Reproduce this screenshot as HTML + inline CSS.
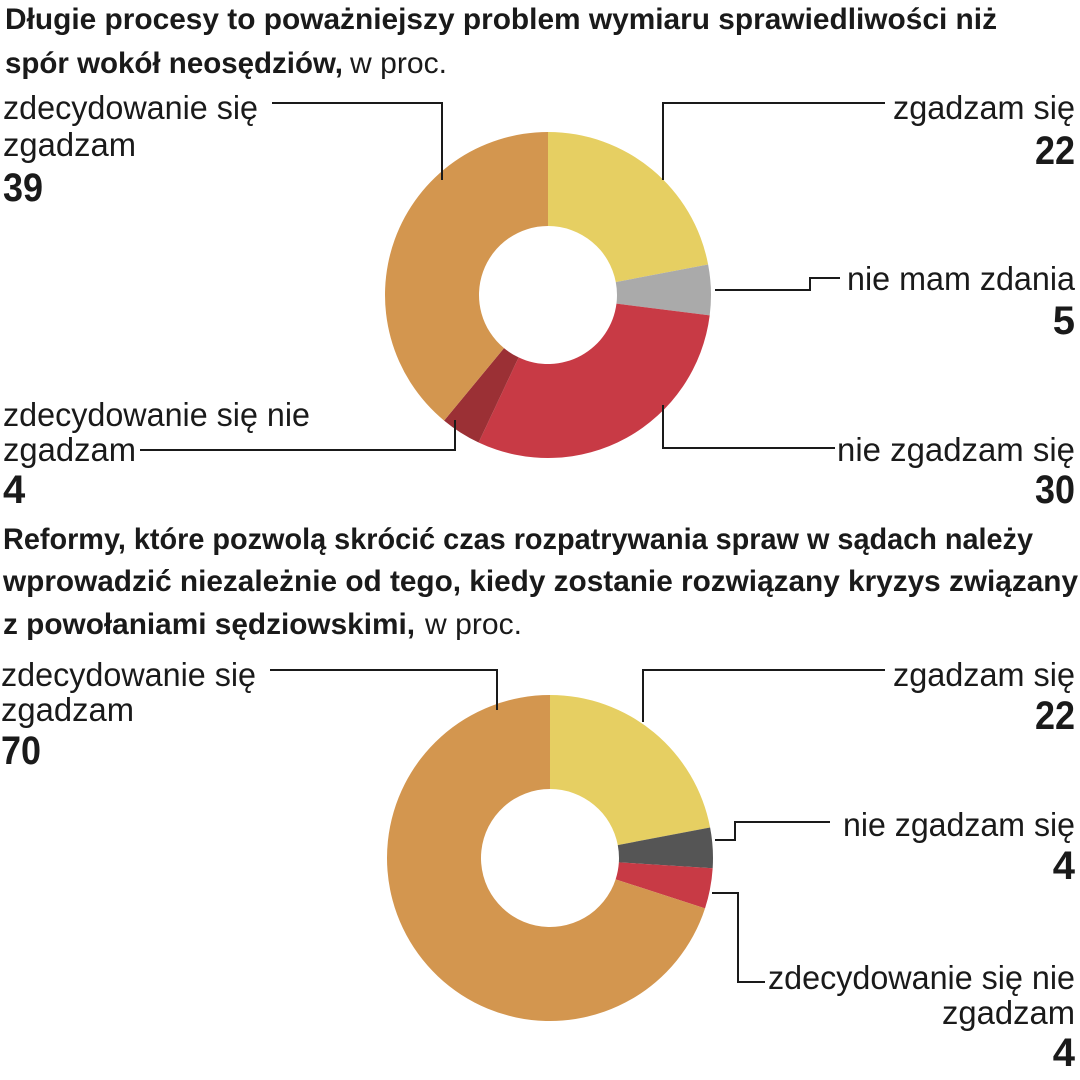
<!DOCTYPE html>
<html><head><meta charset="utf-8"><style>
html,body{margin:0;padding:0;background:#fff}
svg{display:block}
text{font-family:"Liberation Sans Narrow","Liberation Sans","DejaVu Sans Condensed",sans-serif;fill:#1a1a1a}
.t{font-weight:bold;font-size:30px}
.tr{font-weight:normal;font-size:30px}
.l{font-size:33px}
.n{font-size:40px;font-weight:bold}
.ld{stroke:#1a1a1a;stroke-width:2;fill:none}
</style></head><body>
<svg id="s" width="1080" height="1080" viewBox="0 0 1080 1080">
<g>
<text class="t" x="5" y="29" textLength="992" lengthAdjust="spacingAndGlyphs">Długie procesy to poważniejszy problem wymiaru sprawiedliwości niż</text>
<text class="t" x="5" y="73" textLength="338" lengthAdjust="spacingAndGlyphs">spór wokół neosędziów,</text>
<text class="tr" x="350" y="73" textLength="97" lengthAdjust="spacingAndGlyphs">w proc.</text>
</g>
<g id="d1"></g>
<g>
<text class="l" x="3" y="119" textLength="255" lengthAdjust="spacingAndGlyphs">zdecydowanie się</text>
<text class="l" x="3" y="156" textLength="133" lengthAdjust="spacingAndGlyphs">zgadzam</text>
<text class="n" x="3" y="201" textLength="40" lengthAdjust="spacingAndGlyphs">39</text>
<polyline class="ld" points="272,103 442,103 442,180"/>
<text class="l" x="1075" y="119" text-anchor="end" textLength="182" lengthAdjust="spacingAndGlyphs">zgadzam się</text>
<text class="n" x="1075" y="164" text-anchor="end" textLength="40" lengthAdjust="spacingAndGlyphs">22</text>
<polyline class="ld" points="663,180 663,103 885,103"/>
<text class="l" x="1075" y="290" text-anchor="end" textLength="228" lengthAdjust="spacingAndGlyphs">nie mam zdania</text>
<text class="n" x="1075" y="334" text-anchor="end">5</text>
<polyline class="ld" points="715,290 810,290 810,278 840,278"/>
<text class="l" x="3" y="426" textLength="307" lengthAdjust="spacingAndGlyphs">zdecydowanie się nie</text>
<text class="l" x="3" y="461" textLength="133" lengthAdjust="spacingAndGlyphs">zgadzam</text>
<text class="n" x="3" y="503">4</text>
<polyline class="ld" points="140,450 455,450 455,420"/>
<text class="l" x="1075" y="461" text-anchor="end" textLength="238" lengthAdjust="spacingAndGlyphs">nie zgadzam się</text>
<text class="n" x="1075" y="503" text-anchor="end" textLength="40" lengthAdjust="spacingAndGlyphs">30</text>
<polyline class="ld" points="663,405 663,448 835,448"/>
</g>
<g>
<text class="t" x="3" y="549" textLength="1030" lengthAdjust="spacingAndGlyphs">Reformy, które pozwolą skrócić czas rozpatrywania spraw w sądach należy</text>
<text class="t" x="3" y="591" textLength="1075" lengthAdjust="spacingAndGlyphs">wprowadzić niezależnie od tego, kiedy zostanie rozwiązany kryzys związany</text>
<text class="t" x="3" y="634" textLength="412" lengthAdjust="spacingAndGlyphs">z powołaniami sędziowskimi,</text>
<text class="tr" x="425" y="634" textLength="97" lengthAdjust="spacingAndGlyphs">w proc.</text>
</g>
<g id="d2"></g>
<g>
<text class="l" x="1" y="686" textLength="255" lengthAdjust="spacingAndGlyphs">zdecydowanie się</text>
<text class="l" x="1" y="721" textLength="133" lengthAdjust="spacingAndGlyphs">zgadzam</text>
<text class="n" x="1" y="764" textLength="40" lengthAdjust="spacingAndGlyphs">70</text>
<polyline class="ld" points="270,670 497,670 497,710"/>
<text class="l" x="1075" y="686" text-anchor="end" textLength="182" lengthAdjust="spacingAndGlyphs">zgadzam się</text>
<text class="n" x="1075" y="729" text-anchor="end" textLength="40" lengthAdjust="spacingAndGlyphs">22</text>
<polyline class="ld" points="643,722 643,670 885,670"/>
<text class="l" x="1075" y="836" text-anchor="end" textLength="232" lengthAdjust="spacingAndGlyphs">nie zgadzam się</text>
<text class="n" x="1075" y="879" text-anchor="end">4</text>
<polyline class="ld" points="715,840 735,840 735,822 830,822"/>
<text class="l" x="1075" y="989" text-anchor="end" textLength="307" lengthAdjust="spacingAndGlyphs">zdecydowanie się nie</text>
<text class="l" x="1075" y="1024" text-anchor="end" textLength="133" lengthAdjust="spacingAndGlyphs">zgadzam</text>
<text class="n" x="1075" y="1066" text-anchor="end">4</text>
<polyline class="ld" points="712,893 738,893 738,982 765,982"/>
</g>
</svg>
<script>
const cats1 = ["zgadzam się","nie mam zdania","nie zgadzam się","zdecydowanie się nie zgadzam","zdecydowanie się zgadzam"];
const vals1 = [22,5,30,4,39];
const cols1 = ["#e6cf62","#aaaaaa","#c83a45","#9b3035","#d3964f"];
const cats2 = ["zgadzam się","nie zgadzam się","zdecydowanie się nie zgadzam","zdecydowanie się zgadzam"];
const vals2 = [22,4,4,70];
const cols2 = ["#e6cf62","#555555","#c83a45","#d3964f"];
const NS="http://www.w3.org/2000/svg";
function donut(gid,cx,cy,R,r,vals,cols,cats){
  const g=document.getElementById(gid);
  const tot=vals.reduce((a,b)=>a+b,0);
  let a0=-Math.PI/2;
  vals.forEach((v,i)=>{
    const a1=a0+v/tot*2*Math.PI;
    const lg=(a1-a0)>Math.PI?1:0;
    const p=(a,rad)=>(cx+rad*Math.cos(a)).toFixed(2)+","+(cy+rad*Math.sin(a)).toFixed(2);
    const d="M"+p(a0,R)+" A"+R+","+R+" 0 "+lg+" 1 "+p(a1,R)+" L"+p(a1,r)+" A"+r+","+r+" 0 "+lg+" 0 "+p(a0,r)+" Z";
    const el=document.createElementNS(NS,"path");
    el.setAttribute("d",d);el.setAttribute("fill",cols[i]);
    
    
    g.appendChild(el);
    a0=a1;
  });
}
donut("d1",548,295,163,69,vals1,cols1,cats1);
donut("d2",550,858,163,69,vals2,cols2,cats2);
</script>
</body></html>
